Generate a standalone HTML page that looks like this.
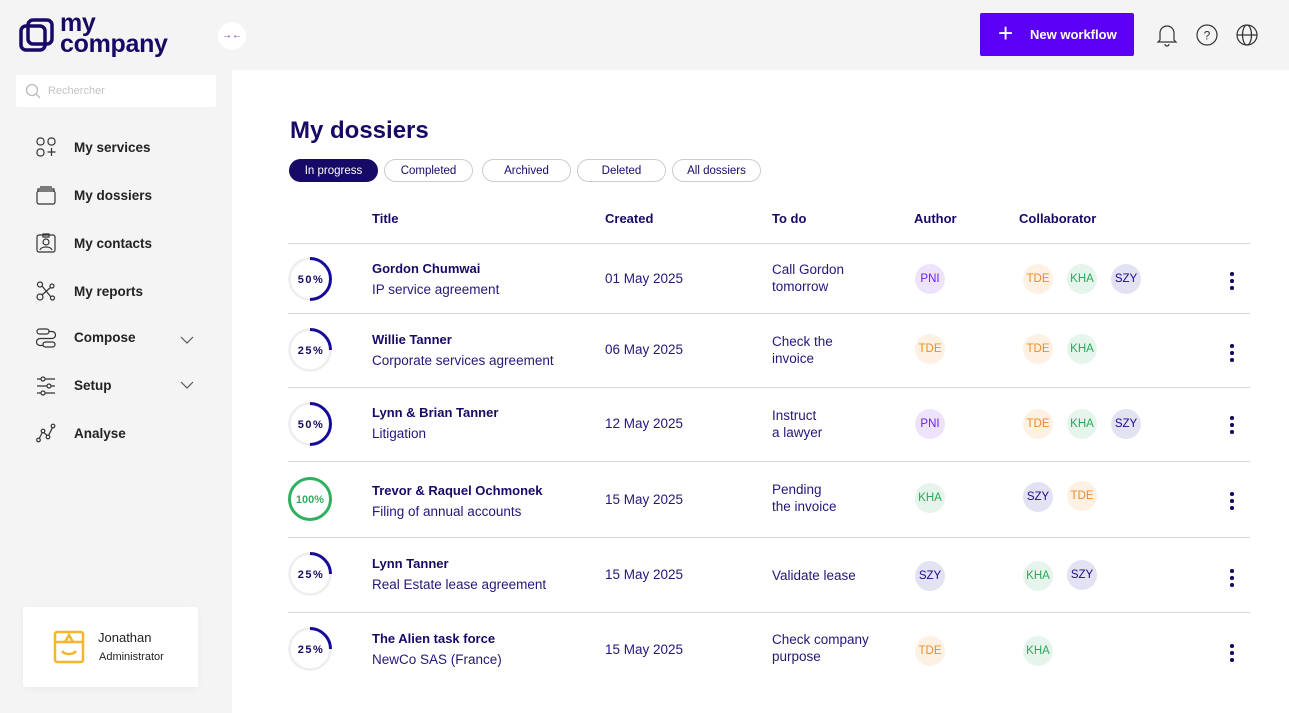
<!DOCTYPE html>
<html><head><meta charset="utf-8"><style>
*{box-sizing:border-box;margin:0;padding:0}
body{width:1289px;height:713px;overflow:hidden;background:#fff;font-family:"Liberation Sans",sans-serif;color:#160a66;position:relative}
.side{position:absolute;left:0;top:0;width:232px;height:713px;background:#f4f4f4}
.top{position:absolute;left:232px;top:0;width:1057px;height:70px;background:#f4f4f4}
.abs{position:absolute}
.nav{position:absolute;left:74px;font-size:13.5px;color:#222;font-weight:bold}
.ic{position:absolute;left:36px;width:20px;height:20px}
.pill{position:absolute;top:159px;height:23px;border:1px solid #ccc;border-radius:12px;font-size:11.5px;text-align:center;line-height:23px;color:#160a66}
.th{position:absolute;top:211px;font-size:13px;font-weight:bold;color:#160a66}
.line{position:absolute;left:288px;width:962px;height:1px;background:#d6d6d6}
.t1{position:absolute;left:372px;font-size:13px;font-weight:bold;color:#160a66}
.t2{position:absolute;left:372px;font-size:13.5px;color:#22187a}
.tx{position:absolute;font-size:13.5px;color:#22187a;line-height:17px}
.av{position:absolute;width:30px;height:30px;border-radius:50%;font-size:11.5px;text-align:center;line-height:30px}
.P{background:#ede4fb;color:#6a1ff0}.T{background:#fdf1e4;color:#f08a24}.K{background:#e6f5ec;color:#2aa85a}.S{background:#e3e2f2;color:#1a0a8b}
.dots{position:absolute;left:1230px;width:5px}
.dots i{display:block;width:3.5px;height:3.5px;border-radius:50%;background:#160a66;margin-bottom:3.5px}
.pc{position:absolute;left:288px;width:44px;height:44px}
</style></head><body>
<div class="side"></div><div class="top"></div>
<svg class="abs" style="left:19px;top:18px" width="36" height="36" viewBox="0 0 36 36"><rect x="2" y="8" width="24" height="24" rx="5" fill="none" stroke="#160a66" stroke-width="3.5"/><rect x="9" y="2" width="24" height="24" rx="5" fill="none" stroke="#160a66" stroke-width="3.5"/></svg>
<div class="abs" style="left:60px;top:13px;font-size:25px;font-weight:bold;color:#160a66;line-height:21px;letter-spacing:-0.3px">my<br>company</div>
<div class="abs" style="left:218px;top:22px;width:28px;height:28px;border-radius:50%;background:#fff;font-size:10px;text-align:center;line-height:28px;color:#5b2aa0">→←</div>
<div class="abs" style="left:16px;top:75px;width:200px;height:32px;background:#fff;border-radius:2px"></div>
<svg class="abs" style="left:25px;top:83px" width="16" height="16"><circle cx="7" cy="7" r="5.5" fill="none" stroke="#bbb" stroke-width="1.3"/><line x1="11" y1="11" x2="15" y2="15" stroke="#bbb" stroke-width="1.3"/></svg>
<div class="abs" style="left:48px;top:85px;font-size:11px;color:#c4c4c4">Rechercher</div>
<svg class="ic" style="top:137px" viewBox="0 0 20 20" fill="none" stroke="#333" stroke-width="1.2"><rect x="1" y="1" width="7" height="7" rx="3"/><rect x="12" y="1" width="7" height="7" rx="3"/><rect x="1" y="12" width="7" height="7" rx="3"/><path d="M15.5 11v8M11.5 15h8"/></svg>
<div class="nav" style="top:140px">My services</div>
<svg class="ic" style="top:185px" viewBox="0 0 20 20" fill="none" stroke="#333" stroke-width="1.2"><rect x="1" y="6" width="18" height="13" rx="2"/><path d="M2 6V4h16v2M4 2h12"/></svg>
<div class="nav" style="top:188px">My dossiers</div>
<svg class="ic" style="top:233px" viewBox="0 0 20 20" fill="none" stroke="#333" stroke-width="1.2"><rect x="1" y="2" width="18" height="17" rx="2"/><circle cx="10" cy="9" r="3"/><path d="M4 17c1-4 11-4 12 0M7 1h6v3H7z"/></svg>
<div class="nav" style="top:236px">My contacts</div>
<svg class="ic" style="top:281px" viewBox="0 0 20 20" fill="none" stroke="#333" stroke-width="1.2"><circle cx="4" cy="3.5" r="2.5"/><circle cx="16" cy="5" r="2"/><circle cx="4" cy="16" r="3"/><circle cx="16.5" cy="17" r="2"/><path d="M6 5l9 11M14.5 6.5L6 14"/></svg>
<div class="nav" style="top:284px">My reports</div>
<svg class="ic" style="top:328px" viewBox="0 0 20 20" fill="none" stroke="#333" stroke-width="1.2"><rect x="1" y="1" width="12" height="5" rx="2.5"/><rect x="7" y="14" width="12" height="5" rx="2.5"/><path d="M13 3.5h3a3.5 3.5 0 0 1 0 7H4a3.5 3.5 0 0 0 0 7h3"/></svg>
<div class="nav" style="top:330px">Compose</div>
<svg class="abs" style="left:180px;top:336px" width="14" height="8"><path d="M1 1l6 6 6-6" fill="none" stroke="#555" stroke-width="1.2"/></svg>
<svg class="ic" style="top:376px" viewBox="0 0 20 20" fill="none" stroke="#333" stroke-width="1.2"><path d="M1 3h18M1 10h18M1 17h18"/><circle cx="7" cy="3" r="2" fill="#f4f4f4"/><circle cx="13" cy="10" r="2" fill="#f4f4f4"/><circle cx="7" cy="17" r="2" fill="#f4f4f4"/></svg>
<div class="nav" style="top:378px">Setup</div>
<svg class="abs" style="left:180px;top:381px" width="14" height="8"><path d="M1 1l6 6 6-6" fill="none" stroke="#555" stroke-width="1.2"/></svg>
<svg class="ic" style="top:423px" viewBox="0 0 20 20" fill="none" stroke="#333" stroke-width="1.2"><circle cx="2.5" cy="17" r="1.8"/><circle cx="7" cy="8" r="1.8"/><circle cx="12" cy="14" r="1.8"/><circle cx="17" cy="3" r="1.8"/><path d="M3.3 15.4L6.2 9.6M7.8 9.6l3.4 2.8M12.6 12.3l3.8-7.6"/></svg>
<div class="nav" style="top:426px">Analyse</div>
<div class="abs" style="left:23px;top:607px;width:175px;height:80px;background:#fff;border-radius:2px;box-shadow:0 2px 8px rgba(0,0,0,.04)"></div>
<svg class="abs" style="left:53px;top:630px" width="32" height="34" viewBox="0 0 32 34" fill="none" stroke="#f7b52c" stroke-width="2.5"><rect x="2" y="2" width="28" height="30" rx="2"/><path d="M2 12h28M12 12l4-7 4 7M9 21c3 4 11 4 14 0"/></svg>
<div class="abs" style="left:98px;top:630px;font-size:13px;color:#222">Jonathan</div>
<div class="abs" style="left:99px;top:651px;font-size:11px;color:#222">Administrator</div>
<div class="abs" style="left:980px;top:13px;width:154px;height:43px;background:#5b00f5;border-radius:2px;color:#fff;font-size:13px;font-weight:bold;line-height:43px"><span style="position:absolute;left:18px;top:-1px;font-size:26px;font-weight:normal">+</span><span style="position:absolute;left:50px">New workflow</span></div>
<svg class="abs" style="left:1156px;top:23px" width="22" height="24" viewBox="0 0 22 24" fill="none" stroke="#333" stroke-width="1.2"><path d="M4 17V10a7 7 0 0 1 14 0v7l2 2H2z M9 21a2 2 0 0 0 4 0"/></svg>
<svg class="abs" style="left:1196px;top:24px" width="22" height="22" fill="none" stroke="#333" stroke-width="1.2"><circle cx="11" cy="11" r="10"/><text x="11" y="15.5" font-size="12" text-anchor="middle" fill="#333" stroke="none" font-family="Liberation Sans">?</text></svg>
<svg class="abs" style="left:1236px;top:24px" width="22" height="22" fill="none" stroke="#333" stroke-width="1.2"><circle cx="11" cy="11" r="10"/><ellipse cx="11" cy="11" rx="4.5" ry="10"/><path d="M1 11h20"/></svg>
<div class="abs" style="left:290px;top:117px;font-size:24px;font-weight:bold;color:#160a66">My dossiers</div>
<div class="pill" style="left:289px;width:89px;background:#160a66;color:#fff;border-color:#160a66">In progress</div>
<div class="pill" style="left:384px;width:89px">Completed</div>
<div class="pill" style="left:482px;width:89px">Archived</div>
<div class="pill" style="left:577px;width:89px">Deleted</div>
<div class="pill" style="left:672px;width:89px">All dossiers</div>
<div class="th" style="left:372px">Title</div><div class="th" style="left:605px">Created</div><div class="th" style="left:772px">To do</div><div class="th" style="left:914px">Author</div><div class="th" style="left:1019px">Collaborator</div>
<div class="line" style="top:243px"></div><div class="line" style="top:313px"></div><div class="line" style="top:387px"></div><div class="line" style="top:461px"></div><div class="line" style="top:537px"></div><div class="line" style="top:612px"></div>

<svg class="pc" style="top:257px" viewBox="0 0 44 44"><circle cx="22" cy="22" r="20.5" fill="none" stroke="#eee" stroke-width="2.5"/><path d="M22 1.5a20.5 20.5 0 0 1 0 41" fill="none" stroke="#160a99" stroke-width="3"/><text x="23" y="26" font-size="11" font-weight="bold" text-anchor="middle" fill="#160a66" font-family="Liberation Sans" letter-spacing="1.5">50%</text></svg>
<svg class="pc" style="top:328px" viewBox="0 0 44 44"><circle cx="22" cy="22" r="20.5" fill="none" stroke="#eee" stroke-width="2.5"/><path d="M22 1.5a20.5 20.5 0 0 1 20.5 20.5" fill="none" stroke="#160a99" stroke-width="3"/><text x="23" y="26" font-size="11" font-weight="bold" text-anchor="middle" fill="#160a66" font-family="Liberation Sans" letter-spacing="1.5">25%</text></svg>
<svg class="pc" style="top:402px" viewBox="0 0 44 44"><circle cx="22" cy="22" r="20.5" fill="none" stroke="#eee" stroke-width="2.5"/><path d="M22 1.5a20.5 20.5 0 0 1 0 41" fill="none" stroke="#160a99" stroke-width="3"/><text x="23" y="26" font-size="11" font-weight="bold" text-anchor="middle" fill="#160a66" font-family="Liberation Sans" letter-spacing="1.5">50%</text></svg>
<svg class="pc" style="top:477px" viewBox="0 0 44 44"><circle cx="22" cy="22" r="20.5" fill="none" stroke="#2eb05f" stroke-width="3"/><text x="22" y="26" font-size="11" font-weight="bold" text-anchor="middle" fill="#2eb05f" font-family="Liberation Sans">100%</text></svg>
<svg class="pc" style="top:552px" viewBox="0 0 44 44"><circle cx="22" cy="22" r="20.5" fill="none" stroke="#eee" stroke-width="2.5"/><path d="M22 1.5a20.5 20.5 0 0 1 20.5 20.5" fill="none" stroke="#160a99" stroke-width="3"/><text x="23" y="26" font-size="11" font-weight="bold" text-anchor="middle" fill="#160a66" font-family="Liberation Sans" letter-spacing="1.5">25%</text></svg>
<svg class="pc" style="top:627px" viewBox="0 0 44 44"><circle cx="22" cy="22" r="20.5" fill="none" stroke="#eee" stroke-width="2.5"/><path d="M22 1.5a20.5 20.5 0 0 1 20.5 20.5" fill="none" stroke="#160a99" stroke-width="3"/><text x="23" y="26" font-size="11" font-weight="bold" text-anchor="middle" fill="#160a66" font-family="Liberation Sans" letter-spacing="1.5">25%</text></svg>

<div class="t1" style="top:261px">Gordon Chumwai</div><div class="t2" style="top:282px">IP service agreement</div>
<div class="tx" style="left:605px;top:270px">01 May 2025</div>
<div class="tx" style="left:772px;top:261px">Call Gordon<br>tomorrow</div>
<div class="av P" style="left:915px;top:264px">PNI</div>
<div class="av T" style="left:1023px;top:264px">TDE</div><div class="av K" style="left:1067px;top:264px">KHA</div><div class="av S" style="left:1111px;top:264px">SZY</div>
<div class="dots" style="top:272px"><i></i><i></i><i></i></div>
<div class="t1" style="top:332px">Willie Tanner</div><div class="t2" style="top:353px">Corporate services agreement</div>
<div class="tx" style="left:605px;top:341px">06 May 2025</div>
<div class="tx" style="left:772px;top:333px">Check the<br>invoice</div>
<div class="av T" style="left:915px;top:334px">TDE</div>
<div class="av T" style="left:1023px;top:334px">TDE</div><div class="av K" style="left:1067px;top:334px">KHA</div>
<div class="dots" style="top:344px"><i></i><i></i><i></i></div>
<div class="t1" style="top:405px">Lynn &amp; Brian Tanner</div><div class="t2" style="top:426px">Litigation</div>
<div class="tx" style="left:605px;top:415px">12 May 2025</div>
<div class="tx" style="left:772px;top:407px">Instruct<br>a lawyer</div>
<div class="av P" style="left:915px;top:409px">PNI</div>
<div class="av T" style="left:1023px;top:409px">TDE</div><div class="av K" style="left:1067px;top:409px">KHA</div><div class="av S" style="left:1111px;top:409px">SZY</div>
<div class="dots" style="top:416px"><i></i><i></i><i></i></div>
<div class="t1" style="top:483px">Trevor &amp; Raquel Ochmonek</div><div class="t2" style="top:504px">Filing of annual accounts</div>
<div class="tx" style="left:605px;top:491px">15 May 2025</div>
<div class="tx" style="left:772px;top:481px">Pending<br>the invoice</div>
<div class="av K" style="left:915px;top:483px">KHA</div>
<div class="av S" style="left:1023px;top:482px">SZY</div><div class="av T" style="left:1067px;top:481px">TDE</div>
<div class="dots" style="top:492px"><i></i><i></i><i></i></div>
<div class="t1" style="top:556px">Lynn Tanner</div><div class="t2" style="top:577px">Real Estate lease agreement</div>
<div class="tx" style="left:605px;top:566px">15 May 2025</div>
<div class="tx" style="left:772px;top:567px">Validate lease</div>
<div class="av S" style="left:915px;top:561px">SZY</div>
<div class="av K" style="left:1023px;top:561px">KHA</div><div class="av S" style="left:1067px;top:560px">SZY</div>
<div class="dots" style="top:569px"><i></i><i></i><i></i></div>
<div class="t1" style="top:631px">The Alien task force</div><div class="t2" style="top:652px">NewCo SAS (France)</div>
<div class="tx" style="left:605px;top:641px">15 May 2025</div>
<div class="tx" style="left:772px;top:631px">Check company<br>purpose</div>
<div class="av T" style="left:915px;top:636px">TDE</div>
<div class="av K" style="left:1023px;top:636px">KHA</div>
<div class="dots" style="top:644px"><i></i><i></i><i></i></div>
</body></html>
